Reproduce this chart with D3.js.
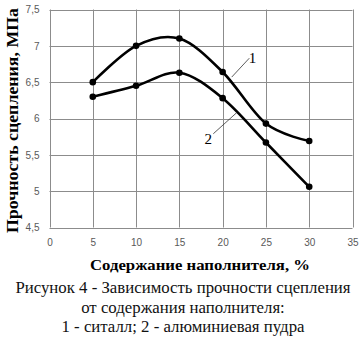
<!DOCTYPE html>
<html>
<head>
<meta charset="utf-8">
<script src="https://cdn.jsdelivr.net/npm/d3@7"></script>
<style>
  html, body { margin: 0; padding: 0; background: #fff; }
  svg { display: block; }
</style>
</head>
<body>
<svg id="chart" width="363" height="338"></svg>
<script>
// Filler content, %
const filler = [5, 10, 15, 20, 25, 30];
// Bond strength, MPa: 1 - glass-ceramic (ситалл), 2 - aluminium powder
const sitall = [6.50, 7.00, 7.10, 6.64, 5.93, 5.69];
const aluminium = [6.30, 6.45, 6.63, 6.28, 5.67, 5.06];

const xTicks = [0, 5, 10, 15, 20, 25, 30, 35];
const yTicks = [4.5, 5, 5.5, 6, 6.5, 7, 7.5];

const yTitle = "Прочность сцепления, МПа";
const xTitle = "Содержание наполнителя, %";
const caption = [
  "Рисунок 4 - Зависимость прочности сцепления",
  "от содержания наполнителя:",
  "1 - ситалл; 2 - алюминиевая пудра"
];

// Curve labels with their leader lines (data units)
const curveLabels = [
  { text: "1", from: [21.05, 6.57], to: [23.08, 6.83], at: [23.45, 6.76] },
  { text: "2", from: [18.92, 5.79], to: [21.62, 6.08], at: [18.35, 5.65] }
];

const svg = d3.select("#chart");
const plot = { left: 49.5, right: 352.5, top: 9.5, bottom: 227.5 };

const x = d3.scaleLinear().domain([0, 35]).range([plot.left, plot.right]);
const y = d3.scaleLinear().domain([4.5, 7.5]).range([plot.bottom, plot.top]);

const fmt = d => String(d).replace(".", ",");

// grid
const grid = svg.append("g");
grid.selectAll("line.v").data(xTicks).join("line")
  .attr("x1", d => Math.round(x(d)) + 0.5).attr("x2", d => Math.round(x(d)) + 0.5)
  .attr("y1", plot.top).attr("y2", plot.bottom)
  .attr("stroke", "#8c8c8c").attr("stroke-width", 1);
grid.selectAll("line.h").data(yTicks).join("line")
  .attr("y1", d => Math.round(y(d)) + 0.5).attr("y2", d => Math.round(y(d)) + 0.5)
  .attr("x1", plot.left).attr("x2", plot.right)
  .attr("stroke", "#8c8c8c").attr("stroke-width", 1);

// axes labels via d3 axes, domain and tick lines hidden
const yAxis = svg.append("g").attr("transform", `translate(${plot.left},0)`)
  .call(d3.axisLeft(y).tickValues(yTicks).tickFormat(fmt).tickSize(0).tickPadding(10));
const xAxis = svg.append("g").attr("transform", `translate(0,${plot.bottom})`)
  .call(d3.axisBottom(x).tickValues(xTicks).tickFormat(fmt).tickSize(0).tickPadding(11));
[xAxis, yAxis].forEach(a => {
  a.select(".domain").remove();
  a.selectAll("text").attr("fill", "#595959")
    .style("font-family", "'Liberation Sans', Arial, sans-serif").style("font-size", "10px");
});

// series
const line = d3.line().curve(d3.curveCardinal.tension(0))
  .x((d, i) => x(filler[i])).y(d => y(d));
[sitall, aluminium].forEach(vals => {
  svg.append("path").datum(vals).attr("d", line)
    .attr("fill", "none").attr("stroke", "#000").attr("stroke-width", 2.6)
    .attr("stroke-linejoin", "round");
  svg.append("g").selectAll("circle").data(vals).join("circle")
    .attr("cx", (d, i) => x(filler[i])).attr("cy", d => y(d)).attr("r", 3.3)
    .attr("fill", "#000");
});

// curve labels
curveLabels.forEach(c => {
  svg.append("line")
    .attr("x1", x(c.from[0])).attr("y1", y(c.from[1]))
    .attr("x2", x(c.to[0])).attr("y2", y(c.to[1]))
    .attr("stroke", "#333").attr("stroke-width", 0.8);
  svg.append("text").attr("x", x(c.at[0])).attr("y", y(c.at[1]))
    .attr("text-anchor", "middle")
    .style("font-family", "'Liberation Serif', 'Times New Roman', serif")
    .style("font-size", "15px").text(c.text);
});

// axis titles
svg.append("text")
  .attr("transform", "translate(18,233) rotate(-90)")
  .attr("textLength", 225).attr("lengthAdjust", "spacingAndGlyphs")
  .style("font-family", "'Liberation Serif', 'Times New Roman', serif")
  .style("font-size", "16.5px").style("font-weight", "bold").text(yTitle);

svg.append("text")
  .attr("x", 90).attr("y", 270)
  .attr("textLength", 220).attr("lengthAdjust", "spacingAndGlyphs")
  .style("font-family", "'Liberation Serif', 'Times New Roman', serif")
  .style("font-size", "15px").style("font-weight", "bold").text(xTitle);

// caption
svg.append("g").selectAll("text").data(caption).join("text")
  .attr("x", 183).attr("y", (d, i) => 293 + i * 19.5)
  .attr("text-anchor", "middle")
  .style("font-family", "'Liberation Serif', 'Times New Roman', serif")
  .style("font-size", "16.8px").attr("fill", "#111").text(d => d);
</script>
</body>
</html>
